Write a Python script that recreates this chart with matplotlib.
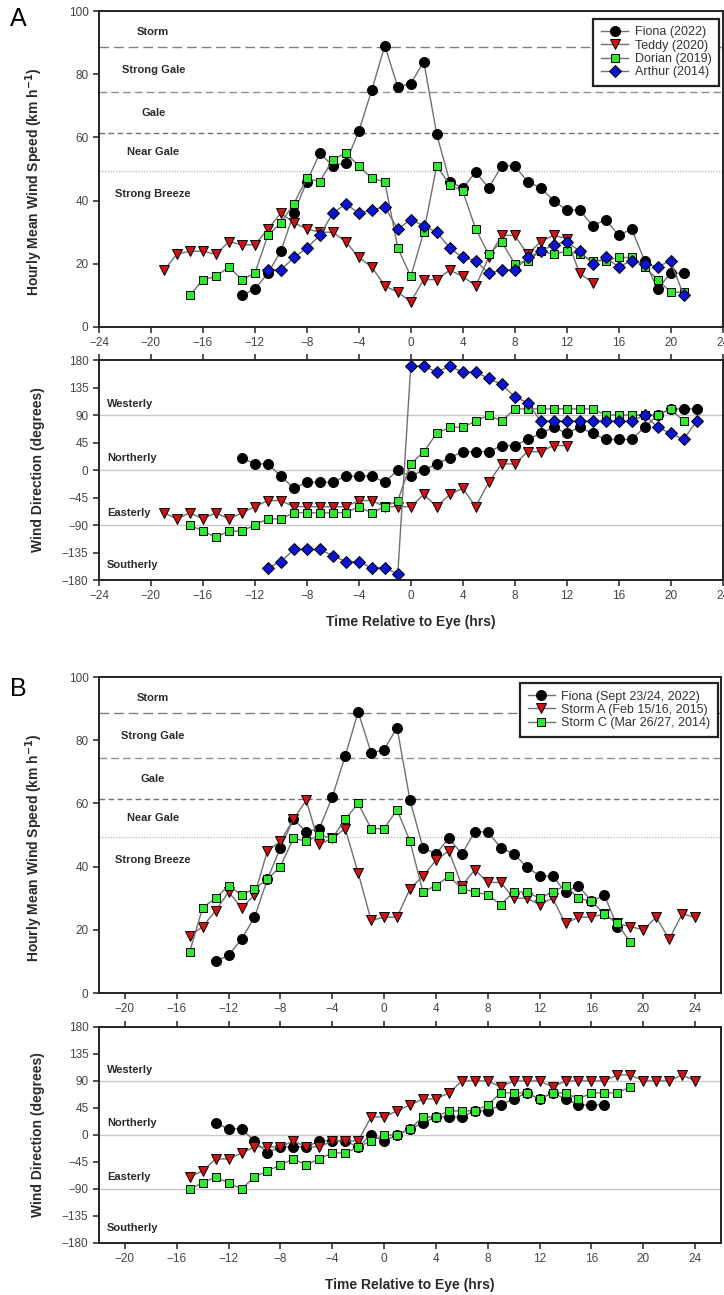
import numpy as np
import matplotlib
matplotlib.use("Agg")
import matplotlib.pyplot as plt

plt.rcParams['font.family'] = ['Liberation Sans', 'DejaVu Sans']

# ---- Panel A: hurricanes ----
fiona_spd_hrs = list(range(-13, 22))
fiona_spd = [10, 12, 17, 24, 36, 46, 55, 51, 52, 62, 75, 89, 76, 77, 84, 61,
             46, 44, 49, 44, 51, 51, 46, 44, 40, 37, 37, 32, 34, 29, 31, 21,
             12, 17, 17]
teddy_spd_hrs = list(range(-19, 15))
teddy_spd = [18, 23, 24, 24, 23, 27, 26, 26, 31, 36, 33, 31, 30, 30, 27, 22,
             19, 13, 11, 8, 15, 15, 18, 16, 13, 22, 29, 29, 23, 27, 29, 28,
             17, 14]
dorian_spd_hrs = list(range(-17, 22))
dorian_spd = [10, 15, 16, 19, 15, 17, 29, 33, 39, 47, 46, 53, 55, 51, 47, 46,
              25, 16, 30, 51, 45, 43, 31, 23, 27, 20, 21, 24, 23, 24, 23, 21,
              21, 22, 22, 19, 15, 11, 11]
arthur_spd_hrs = list(range(-11, 22))
arthur_spd = [18, 18, 22, 25, 29, 36, 39, 36, 37, 38, 31, 34, 32, 30, 25, 22,
              21, 17, 18, 18, 22, 24, 26, 27, 24, 20, 22, 19, 21, 20, 19, 21,
              10]

fiona_dir_hrs = list(range(-13, 23))
fiona_dir = [20, 10, 10, -10, -30, -20, -20, -20, -10, -10, -10, -20, 0, -10,
             0, 10, 20, 30, 30, 30, 40, 40, 50, 60, 70, 60, 70, 60, 50, 50, 50,
             70, 90, 100, 100, 100]
teddy_dir_hrs = list(range(-19, 13))
teddy_dir = [-70, -80, -70, -80, -70, -80, -70, -60, -50, -50, -60, -60, -60,
             -60, -60, -50, -50, -60, -60, -60, -40, -60, -40, -30, -60, -20,
             10, 10, 30, 30, 40, 40]
dorian_dir_hrs = list(range(-17, 22))
dorian_dir = [-90, -100, -110, -100, -100, -90, -80, -80, -70, -70, -70, -70,
              -70, -60, -70, -60, -50, 10, 30, 60, 70, 70, 80, 90, 80, 100,
              100, 100, 100, 100, 100, 100, 90, 90, 90, 90, 90, 100, 80]
arthur_dir_hrs = list(range(-11, 23))
arthur_dir = [-160, -150, -130, -130, -130, -140, -150, -150, -160, -160,
              -170, 170, 170, 160, 170, 160, 160, 150, 140, 120, 110, 80, 80,
              80, 80, 80, 80, 80, 80, 90, 70, 60, 50, 80]

# ---- Panel B: winter storms ----
fiona_b_spd_end = 18
fiona_b_dir_end = 17
storm_a_spd_hrs = list(range(-15, 25))
storm_a_spd = [18, 21, 26, 32, 27, 31, 45, 48, 55, 61, 47, 49, 52, 38, 23, 24,
               24, 33, 37, 42, 45, 34, 39, 35, 35, 30, 30, 28, 30, 22, 24, 24,
               25, 22, 21, 20, 24, 17, 25, 24]
storm_c_spd_hrs = list(range(-15, 20))
storm_c_spd = [13, 27, 30, 34, 31, 33, 36, 40, 49, 48, 50, 49, 55, 60, 52, 52,
               58, 48, 32, 34, 37, 33, 32, 31, 28, 32, 32, 30, 32, 34, 30, 29,
               25, 22, 16]
storm_a_dir_hrs = list(range(-15, 25))
storm_a_dir = [-70, -60, -40, -40, -30, -20, -20, -20, -10, -20, -20, -10,
               -10, -10, 30, 30, 40, 50, 60, 60, 70, 90, 90, 90, 80, 90, 90,
               90, 80, 90, 90, 90, 90, 100, 100, 90, 90, 90, 100, 90]
storm_c_dir_hrs = list(range(-15, 20))
storm_c_dir = [-90, -80, -70, -80, -90, -70, -60, -50, -40, -50, -40, -30,
               -30, -20, -10, 0, 0, 10, 30, 30, 40, 40, 40, 50, 70, 70, 70, 60,
               70, 70, 60, 70, 70, 70, 80]

labels_a = ['Fiona (2022)', 'Teddy (2020)', 'Dorian (2019)', 'Arthur (2014)']
labels_b = ['Fiona (Sept 23/24, 2022)', 'Storm A (Feb 15/16, 2015)',
            'Storm C (Mar 26/27, 2014)']

beaufort_names = ['Storm', 'Strong Gale', 'Gale', 'Near Gale', 'Strong Breeze']
beaufort_label_y = [93.3, 81.3, 67.7, 55.4, 42.1]
beaufort_limits = [88.5, 74.5, 61.5, 49.5]
direction_names = ['Westerly', 'Northerly', 'Easterly', 'Southerly']
direction_label_y = [108, 20, -70, -155]

styles = [
    dict(marker='o', color='black', ms=7.2),
    dict(marker='v', color='#cc1414', ms=7.2),
    dict(marker='s', color='#2ee82e', ms=6.2),
    dict(marker='D', color='#0a14d2', ms=5.8),
]
LINE = '#707070'
TXT = '#2a2a2a'


def draw_series(ax, x, y, st, label=None):
    ax.plot(x, y, '-', color=LINE, lw=1.0, marker=st['marker'], ms=st['ms'],
            mfc=st['color'], mec='black', mew=0.7, label=label)


def style_axis(ax, xlim, xticks, top_ticks=False):
    ax.set_xlim(*xlim)
    ax.set_xticks(xticks)
    for s in ax.spines.values():
        s.set_linewidth(1.4)
        s.set_color('#222222')
    ax.tick_params(axis='both', direction='out', length=4, width=1.1,
                   labelsize=8.5, labelcolor='#444444', color='#222222')
    ax.tick_params(axis='x', top=top_ticks, length=4)
    ax.tick_params(axis='y', right=False)


def speed_panel(ax, xlim, xticks):
    dash = [(0, (7, 3.5)), (0, (5.5, 3)), (0, (4, 2.5)), (0, (1, 1))]
    cols = ['#808080', '#909090', '#707070', '#c0c0c0']
    for yv, ls, c in zip(beaufort_limits, dash, cols):
        ax.axhline(yv, color=c, ls=ls, lw=1.0, zorder=1)
    for name, yv in zip(beaufort_names, beaufort_label_y):
        ax.text(0.087, yv, name, transform=ax.get_yaxis_transform(),
                ha='center', va='center', fontsize=8, fontweight='bold',
                color=TXT)
    ax.set_ylim(0, 100)
    ax.set_yticks([0, 20, 40, 60, 80, 100])
    style_axis(ax, xlim, xticks)
    ax.set_ylabel('Hourly Mean Wind Speed (km h$^{\\mathbf{-1}}$)',
                  fontsize=10, fontweight='bold', color=TXT)
    ax.yaxis.set_label_coords(-0.087, 0.46)


def direction_panel(ax, xlim, xticks):
    for yv in [90, 0, -90]:
        ax.axhline(yv, color='#c8c8c8', lw=1.0, zorder=1)
    for name, yv in zip(direction_names, direction_label_y):
        ax.text(0.013, yv, name, transform=ax.get_yaxis_transform(),
                ha='left', va='center', fontsize=8, fontweight='bold',
                color=TXT)
    ax.set_ylim(-180, 180)
    ax.set_yticks([-180, -135, -90, -45, 0, 45, 90, 135, 180])
    style_axis(ax, xlim, xticks, top_ticks=True)
    ax.set_ylabel('Wind Direction (degrees)', fontsize=10, fontweight='bold',
                  color=TXT)
    ax.yaxis.set_label_coords(-0.087, 0.5)
    ax.set_xlabel('Time Relative to Eye (hrs)', fontsize=10,
                  fontweight='bold', color=TXT, labelpad=9)


def add_legend(ax, anchor):
    leg = ax.legend(loc='upper right', bbox_to_anchor=anchor,
                    borderaxespad=0, fancybox=False, framealpha=1,
                    edgecolor='#222222', fontsize=9, handlelength=2.2,
                    handletextpad=0.5, labelspacing=0.1, borderpad=0.6)
    leg.get_frame().set_linewidth(1.6)
    for t in leg.get_texts():
        t.set_color('#333333')


fig = plt.figure(figsize=(7.24, 12.95), dpi=100)

# Panel A
ax1 = fig.add_axes([0.1367, 0.7475, 0.8613, 0.2440])
ax2 = fig.add_axes([0.1367, 0.5521, 0.8613, 0.1699])
ticks_a = list(range(-24, 25, 4))
speed_panel(ax1, (-24, 24), ticks_a)
direction_panel(ax2, (-24, 24), ticks_a)

a_spd = [(fiona_spd_hrs, fiona_spd), (teddy_spd_hrs, teddy_spd),
         (dorian_spd_hrs, dorian_spd), (arthur_spd_hrs, arthur_spd)]
a_dir = [(fiona_dir_hrs, fiona_dir), (teddy_dir_hrs, teddy_dir),
         (dorian_dir_hrs, dorian_dir), (arthur_dir_hrs, arthur_dir)]
for (x, y), st, lab in zip(a_spd, styles, labels_a):
    draw_series(ax1, x, y, st, lab)
for (x, y), st in zip(a_dir, styles):
    draw_series(ax2, x, y, st)
add_legend(ax1, (0.994, 0.975))

# Panel B
ax3 = fig.add_axes([0.1367, 0.2332, 0.8592, 0.2440])
ax4 = fig.add_axes([0.1367, 0.0402, 0.8592, 0.1668])
ticks_b = list(range(-20, 25, 4))
speed_panel(ax3, (-22, 26), ticks_b)
direction_panel(ax4, (-22, 26), ticks_b)

n_spd = fiona_spd_hrs.index(fiona_b_spd_end) + 1
n_dir = fiona_dir_hrs.index(fiona_b_dir_end) + 1
b_spd = [(fiona_spd_hrs[:n_spd], fiona_spd[:n_spd]),
         (storm_a_spd_hrs, storm_a_spd), (storm_c_spd_hrs, storm_c_spd)]
b_dir = [(fiona_dir_hrs[:n_dir], fiona_dir[:n_dir]),
         (storm_a_dir_hrs, storm_a_dir), (storm_c_dir_hrs, storm_c_dir)]
for (x, y), st, lab in zip(b_spd, styles, labels_b):
    draw_series(ax3, x, y, st, lab)
for (x, y), st in zip(b_dir, styles):
    draw_series(ax4, x, y, st)
add_legend(ax3, (0.995, 0.981))

fig.text(0.025, 0.985, 'A', fontsize=18, ha='center', va='center')
fig.text(0.025, 0.468, 'B', fontsize=18, ha='center', va='center')

fig.savefig('out.png', dpi=100)
